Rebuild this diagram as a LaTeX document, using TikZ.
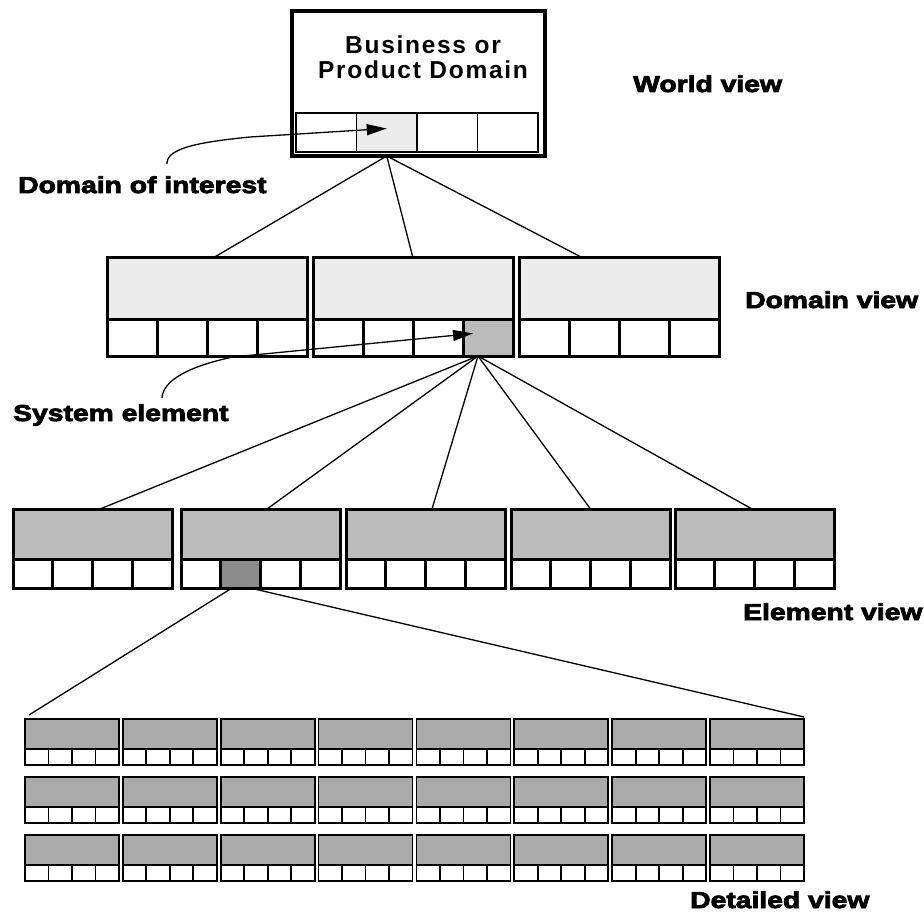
\documentclass[tikz,border=0pt]{standalone}
\usepackage{fontspec}
\usetikzlibrary{calc,arrows.meta}

% heavy, wide face for the view captions; letter-spaced bold face for the title
\newfontfamily\captionface[FakeStretch=1.23,FakeBold=3.5]{Liberation Sans Bold}
\newfontfamily\titleface[LetterSpace=7]{Liberation Sans Bold}

\definecolor{paleshade}{HTML}{ECECEC}
\definecolor{midshade}{HTML}{BBBBBB}
\definecolor{deepshade}{HTML}{8C8C8C}
\definecolor{gridshade}{HTML}{AAAAAA}

\tikzset{
  panel/.style={draw, rectangle, inner sep=0pt, outer sep=0pt, anchor=north west},
  cellbox/.style={draw, rectangle, inner sep=0pt, outer sep=0pt, anchor=south west},
  domainpanel/.style={line width=3pt, fill=paleshade},
  elementpanel/.style={line width=3pt, fill=midshade},
  detailpanel/.style={line width=1.8pt, fill=gridshade},
  link/.style={line width=1.3pt},
  pointer/.style={line width=1.3pt, -{Triangle[length=20pt,width=11pt]}},
  caption/.style={anchor=base west, inner sep=0pt, font=\captionface\fontsize{23}{23}\selectfont},
  title/.style={anchor=base, inner sep=0pt, font=\titleface\fontsize{24.5}{24.5}\selectfont},
  % highlighted cells
  c-d2-4/.style={fill=midshade},
  c-e2-2/.style={fill=deepshade},
  c-world-2/.style={fill=paleshade},
}

% #1 name, #2 x, #3 y of top edge, #4 width, #5 height, #6 cell height, #7 style
\newcommand\viewpanel[7]{%
  \node[panel, #7, minimum width=#4pt, minimum height=#5pt] (#1) at ({#2},{#3}) {};
  \foreach \k in {1,...,4}{
    \node[cellbox, #7, fill=white, c-#1-\k/.try,
          minimum width={#4/4*1pt}, minimum height=#6pt]
      (#1-\k) at ($(#1.south west)+({(\k-1)*#4/4},0)$) {};
  }%
}

\begin{document}
\begin{tikzpicture}[x=1pt,y=-1pt]
  \fill[white] (0,0) rectangle (924,920);
  \useasboundingbox (0,0) rectangle (924,920);

  % ---- world view ----
  \node[panel, line width=4pt, minimum width=253pt, minimum height=145pt] (world) at (292,11) {};
  \foreach \k in {1,...,4}{
    \node[cellbox, line width=1.6pt, fill=white, c-world-\k/.try,
          minimum width=60.5pt, minimum height=39pt]
      (world-\k) at ({296+(\k-1)*60.5},152) {};
  }
  \node[title] (title-a) at (423,54) {Business or};
  \node[title] (title-b) at (423,79) {Product Domain};

  % ---- domain view ----
  \viewpanel{d1}{107}{258}{200}{98}{37}{domainpanel}
  \viewpanel{d2}{313}{258}{200}{98}{37}{domainpanel}
  \viewpanel{d3}{519}{258}{200}{98}{37}{domainpanel}

  % ---- element view ----
  \foreach \i/\x in {1/13, 2/181, 3/346, 4/511, 5/675}{
    \viewpanel{e\i}{\x}{509}{159}{79}{29}{elementpanel}
  }

  % ---- detailed view ----
  \foreach \r/\y in {1/719, 2/777, 3/835}{
    \foreach \c in {1,...,8}{
      \viewpanel{f-\r-\c}{25+(\c-1)*97.85}{\y}{94}{46}{16}{detailpanel}
    }
  }

  % ---- hierarchy connectors ----
  \coordinate (world-hub) at (world-2 |- world.south);
  \draw[link] (world-hub) -- ($(d1.north)+(6,0)$);
  \draw[link] (world-hub) -- (d2.north);
  \draw[link] (world-hub) -- ($(d3.north)+(-36,0)$);

  \coordinate (domain-hub) at ($(d2-4.south)+(-10,0)$);
  \draw[link] (domain-hub) -- ($(e1.north)+(7.5,0)$);
  \draw[link] (domain-hub) -- ($(e2.north)+(6.5,0)$);
  \draw[link] (domain-hub) -- ($(e3.north)+(6.5,0)$);
  \draw[link] (domain-hub) -- (e4.north);
  \draw[link] (domain-hub) -- ($(e5.north)+(-2.5,0)$);

  \draw[link] ($(e2-2.south)+(-8.6,0)$) -- ($(f-1-1.north west)+(4,-4)$);
  \draw[link] ($(e2-2.south)+(9.4,0)$) -- ($(f-1-8.north east)+(0,-2)$);

  % ---- captions ----
  \node[caption] (world-cap)    at (633,92)  {World view};
  \node[caption] (interest-cap) at (18,193)  {Domain of interest};
  \node[caption] (domain-cap)   at (745,308) {Domain view};
  \node[caption] (system-cap)   at (13,421)  {System element};
  \node[caption] (element-cap)  at (743,620) {Element view};
  \node[caption] (detail-cap)   at (690,908) {Detailed view};

  % ---- pointers ----
  \coordinate (interest-start) at (167,164);
  \draw[pointer] (interest-start) .. controls (166,148) and (200,142) .. (250,137)
    -- ($(world-2.center)+(0,-4)$);
  \coordinate (system-start) at (162,398);
  \draw[pointer] (system-start) .. controls (163,380) and (190,366) .. (233,357)
    -- ($(d2-4.center)+(-15,-4)$);
\end{tikzpicture}
\end{document}
